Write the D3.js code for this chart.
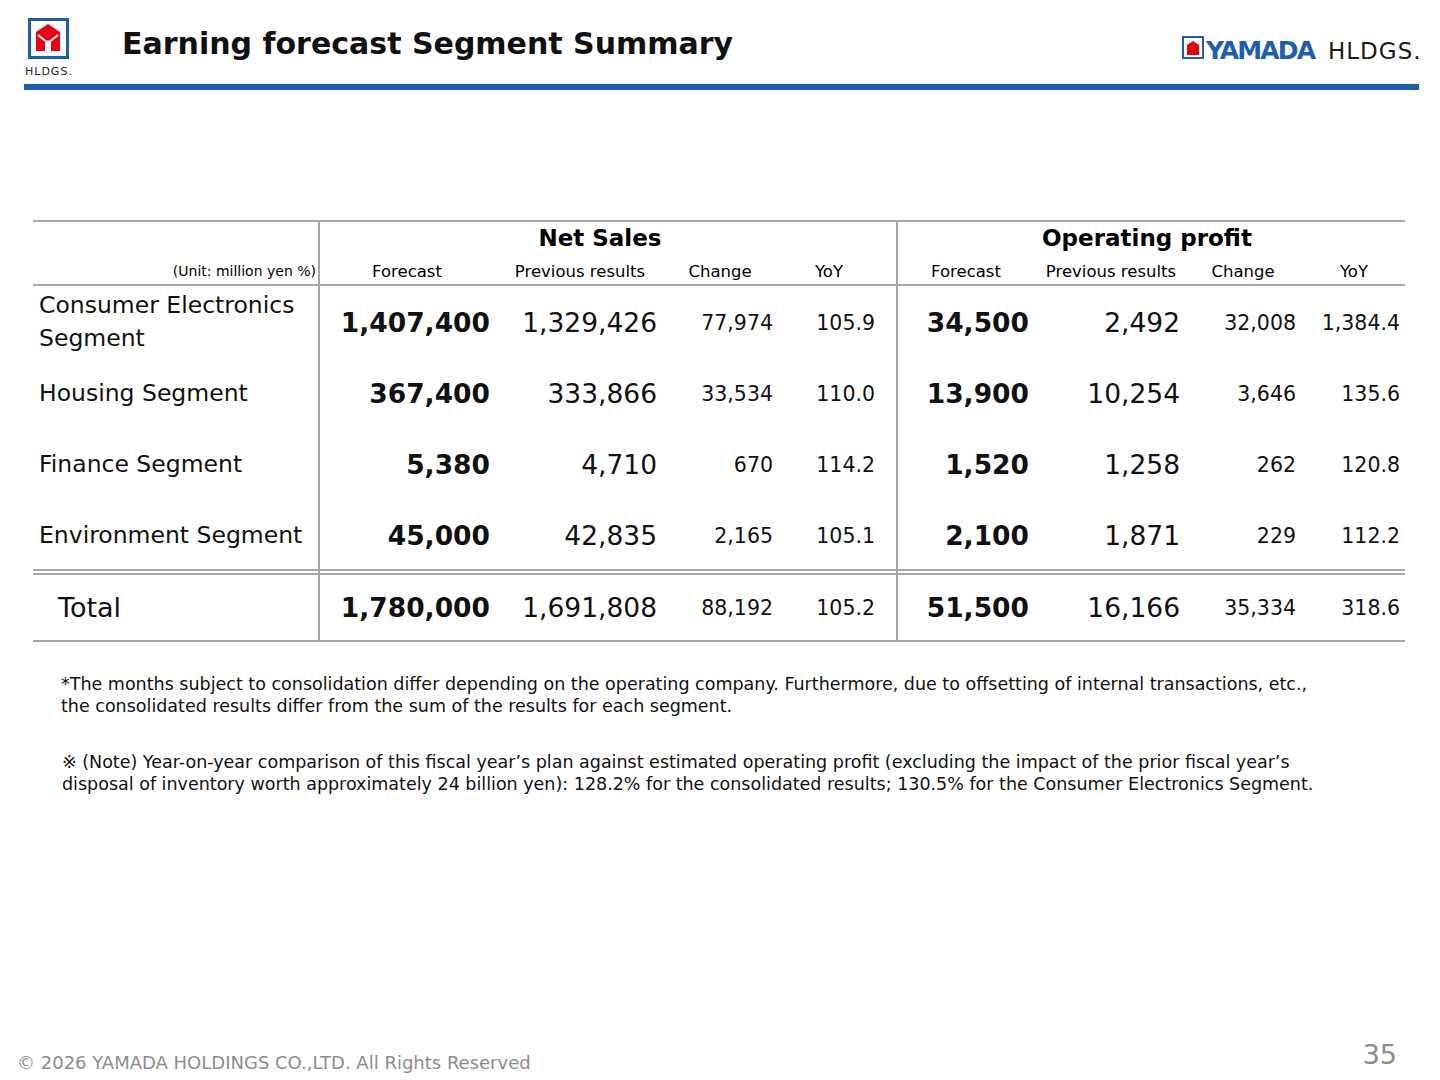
<!DOCTYPE html>
<html><head><meta charset="utf-8">
<script src="https://cdn.jsdelivr.net/npm/d3@7"></script>
<style>body{margin:0;background:#fff;font-family:"DejaVu Sans",sans-serif}</style>
</head><body>
<script>
const segments = [["Consumer Electronics", "Segment"], ["Housing Segment"], ["Finance Segment"], ["Environment Segment"]];
const subHeaders = ["Forecast", "Previous results", "Change", "YoY", "Forecast", "Previous results", "Change", "YoY"];
const salesForecast = ["1,407,400", "367,400", "5,380", "45,000"];
const salesPrev = ["1,329,426", "333,866", "4,710", "42,835"];
const salesChange = ["77,974", "33,534", "670", "2,165"];
const salesYoY = ["105.9", "110.0", "114.2", "105.1"];
const opForecast = ["34,500", "13,900", "1,520", "2,100"];
const opPrev = ["2,492", "10,254", "1,258", "1,871"];
const opChange = ["32,008", "3,646", "262", "229"];
const opYoY = ["1,384.4", "135.6", "120.8", "112.2"];
const totalRow = ["1,780,000", "1,691,808", "88,192", "105.2", "51,500", "16,166", "35,334", "318.6"];

const W = 1440, H = 1080;
const svg = d3.select("body").append("svg").attr("width", W).attr("height", H);

// header
const logo = svg.append("g").attr("transform", "translate(28,18)");
logo.append("rect").attr("x", 1.5).attr("y", 1.5).attr("width", 38).attr("height", 38).attr("fill", "#fff").attr("stroke", "#1d5fae").attr("stroke-width", 3);
logo.append("path").attr("d", "M8,14 L20,6 L32,14 L32,33 L23,33 L23,25 L20,22 L17,25 L17,33 L8,33 Z").attr("fill", "#e50012");
logo.append("path").attr("d", "M10,17 L20,25 L30,17").attr("fill", "none").attr("stroke", "#fff").attr("stroke-width", 2);
svg.append("text").attr("x", 25).attr("y", 75).attr("font-size", 11).attr("letter-spacing", 1).attr("fill", "#222").text("HLDGS.");
svg.append("text").attr("x", 122).attr("y", 54).attr("font-size", 30).attr("font-weight", "bold").attr("fill", "#111").text("Earning forecast Segment Summary");
const rl = svg.append("g").attr("transform", "translate(1183,37)");
rl.append("rect").attr("width", 20).attr("height", 21).attr("fill", "#fff").attr("stroke", "#1d5fae").attr("stroke-width", 2);
rl.append("path").attr("d", "M4,8 L10,4 L16,8 L16,18 L4,18 Z").attr("fill", "#e50012");
svg.append("text").attr("x", 1206).attr("y", 59).attr("font-size", 25).attr("font-weight", "bold").attr("fill", "#1d5fae").attr("letter-spacing", -2).attr("textLength", 108).text("YAMADA");
svg.append("text").attr("x", 1328).attr("y", 59).attr("font-size", 23).attr("fill", "#231815").attr("letter-spacing", 1).text("HLDGS.");
svg.append("rect").attr("x", 24).attr("y", 84).attr("width", 1395).attr("height", 6).attr("fill", "#1d5fae");

// table scales
const rowKeys = d3.range(4);
const y = d3.scaleBand().domain(rowKeys).range([286, 571]);
const colRight = d3.scaleOrdinal().domain(d3.range(8)).range([490, 657, 773, 875, 1029, 1180, 1296, 1400]);
const colMid = d3.scaleOrdinal().domain(d3.range(8)).range([407, 580, 720, 829, 966, 1111, 1243, 1354]);
const bigCols = new Set([0, 1, 4, 5]);
const boldCols = new Set([0, 4]);
const grey = "#a6a6a6";

const line = (x1, y1, x2, y2, w) => svg.append("line").attr("x1", x1).attr("y1", y1).attr("x2", x2).attr("y2", y2).attr("stroke", grey).attr("stroke-width", w || 2);
line(33, 221, 1405, 221);
line(33, 285, 1405, 285);
line(33, 570, 1405, 570);
line(33, 574, 1405, 574);
line(33, 641, 1405, 641);
line(319, 221, 319, 641);
line(897, 221, 897, 641);

svg.append("text").attr("x", 600).attr("y", 246).attr("text-anchor", "middle").attr("font-size", 23).attr("font-weight", "bold").text("Net Sales");
svg.append("text").attr("x", 1147).attr("y", 246).attr("text-anchor", "middle").attr("font-size", 23).attr("font-weight", "bold").text("Operating profit");
svg.append("text").attr("x", 316).attr("y", 276).attr("text-anchor", "end").attr("font-size", 14).text("(Unit: million yen %)");
svg.selectAll("text.sub").data(subHeaders).join("text").attr("class", "sub")
  .attr("x", (d, i) => colMid(i)).attr("y", 277).attr("text-anchor", "middle").attr("font-size", 16.5).text(d => d);

const drawVals = (g, d) => g.selectAll("text.v").data(d).join("text").attr("class", "v")
  .attr("x", (v, j) => colRight(j)).attr("y", (v, j) => bigCols.has(j) ? 10 : 8).attr("text-anchor", "end")
  .attr("font-size", (v, j) => bigCols.has(j) ? 26.5 : 20.5).attr("font-weight", (v, j) => boldCols.has(j) ? "bold" : "normal")
  .attr("fill", "#111").text(v => v);

const rows = rowKeys.map(i => [salesForecast[i], salesPrev[i], salesChange[i], salesYoY[i], opForecast[i], opPrev[i], opChange[i], opYoY[i]]);
const rowG = svg.selectAll("g.row").data(rows).join("g").attr("class", "row")
  .attr("transform", (d, i) => `translate(0,${y(i) + y.bandwidth() / 2})`);
rowG.each(function (d, i) {
  const g = d3.select(this);
  const lab = segments[i];
  lab.forEach((t, k) => g.append("text").attr("x", 39).attr("y", (k - (lab.length - 1) / 2) * 33 + 8).attr("font-size", 23.5).attr("fill", "#111").text(t));
  drawVals(g, d);
});
const tg = svg.append("g").attr("transform", "translate(0,607)");
tg.append("text").attr("x", 58).attr("y", 10).attr("font-size", 27).attr("fill", "#111").text("Total");
drawVals(tg, totalRow);

// notes
const notes = [
  [61, 690, "*The months subject to consolidation differ depending on the operating company. Furthermore, due to offsetting of internal transactions, etc.,"],
  [61, 712, "the consolidated results differ from the sum of the results for each segment."],
  [62, 768, "※ (Note) Year-on-year comparison of this fiscal year’s plan against estimated operating profit (excluding the impact of the prior fiscal year’s"],
  [62, 790, "disposal of inventory worth approximately 24 billion yen): 128.2% for the consolidated results; 130.5% for the Consumer Electronics Segment."]
];
svg.selectAll("text.note").data(notes).join("text").attr("class", "note")
  .attr("x", d => d[0]).attr("y", d => d[1]).attr("font-size", 17.5).attr("fill", "#111").text(d => d[2]);

svg.append("text").attr("x", 17).attr("y", 1069).attr("font-size", 18).attr("fill", "#8c8c8c").text("© 2026 YAMADA HOLDINGS CO.,LTD. All Rights Reserved");
svg.append("text").attr("x", 1397).attr("y", 1064).attr("text-anchor", "end").attr("font-size", 27).attr("fill", "#8c8c8c").text("35");
</script>
</body></html>
